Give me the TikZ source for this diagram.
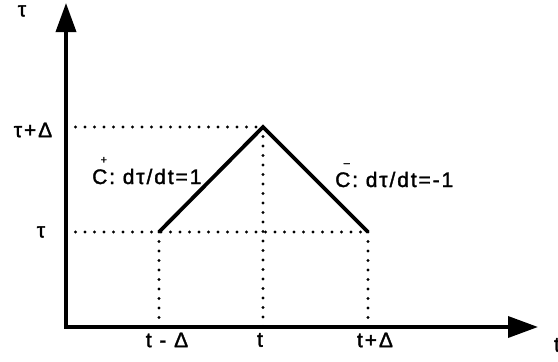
\documentclass[tikz,border=0pt]{standalone}
\usepackage{fontspec}
\setmainfont{Liberation Sans}[LetterSpace=9, FakeBold=1.6]
\usetikzlibrary{arrows.meta}

% sign written above a letter (C^+ and C^-)
\newcommand{\signover}[2]{\rlap{\hspace{0.4em}\raisebox{0.98em}{\fontsize{11}{11}\selectfont #2}}#1}

\begin{document}
\begin{tikzpicture}[
      x=1pt, y=-1pt,
      every node/.style={inner sep=0pt, font=\fontsize{21}{24}\selectfont},
      axis/.style={line width=3.6pt, {Triangle[length=29pt,width=20pt]}-{Triangle[length=30pt,width=21pt]}},
      guide/.style={line width=3.4pt, line cap=round, dash pattern=on 0pt off 9.5pt},
      slope/.style={line width=3.8pt},
    ]
    \useasboundingbox (0,0) rectangle (558,362);

    % Axes corners
    \coordinate (O)    at (66,327);
    \coordinate (ytip) at (66,3);
    \coordinate (xtip) at (538,327);

    % Path of the two slopes
    \coordinate (lo)  at (159,232);
    \coordinate (top) at (263,127);
    \coordinate (ro)  at (368,232);

    % Feet on the axes
    \coordinate (ytop) at (66,127);
    \coordinate (ylow) at (66,232);
    \coordinate (xl)   at (159,327);
    \coordinate (xm)   at (263,327);
    \coordinate (xr)   at (368,327);

    % Dotted guides
    \draw[guide] (ytop) -- (top);
    \draw[guide] (ylow) -- (ro);
    \draw[guide] (lo)  -- (xl);
    \draw[guide] (top) -- (xm);
    \draw[guide] (ro)  -- (xr);

    % Slopes
    \draw[slope, line join=miter] (lo) -- (top) -- (ro);

    % Axes
    \draw[axis] (ytip) -- (O) -- (xtip);

    % Labels
    \node (ylab)  at (22,11)   {τ};
    \node (tpd)   at (33,130)  {τ+Δ};
    \node (tau)   at (41,232)  {τ};
    \node (tml)   at (167,340) {t - Δ};
    \node (tmid)  at (260,340) {t};
    \node (tpl)   at (375,340) {t+Δ};
    \node (xlab)  at (557,345) {t};
    \node[anchor=base west] (cplus)  at (92,184) {\signover{C}{+}: dτ/dt=1};
    \node[anchor=base west] (cminus) at (335,187) {\signover{C}{–}: dτ/dt=-1};

\end{tikzpicture}
\end{document}
